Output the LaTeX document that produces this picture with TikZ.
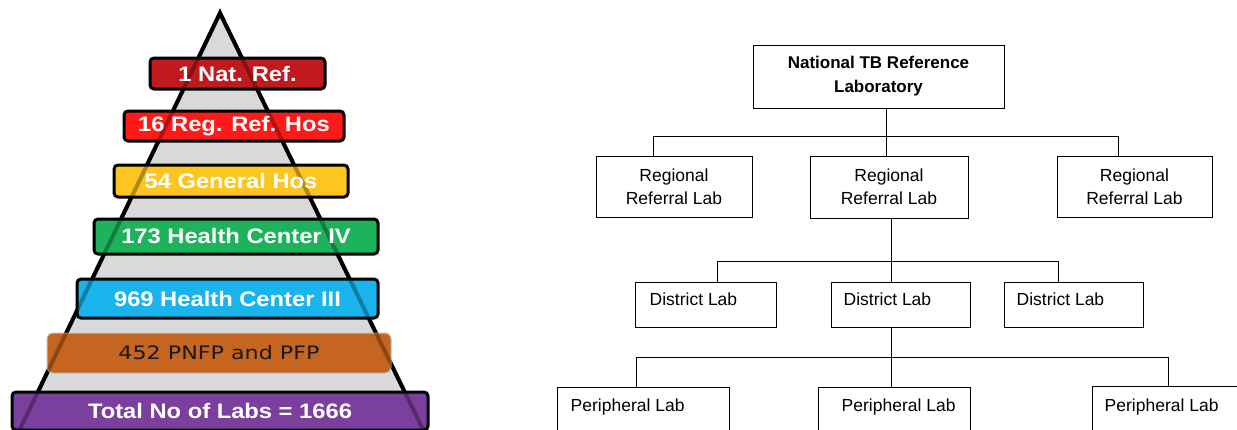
\documentclass[tikz,border=0pt]{standalone}
\usepackage{fontspec}
\setmainfont{Liberation Sans}
\newfontfamily\bandfont[FakeStretch=1.13]{Liberation Sans}
\newfontfamily\pnfpfont[FakeStretch=1.2]{DejaVu Sans}

\definecolor{pyrgray}{RGB}{217,217,217}
\definecolor{natred}{RGB}{192,26,31}
\definecolor{regred}{RGB}{255,25,25}
\definecolor{genyellow}{RGB}{252,197,32}
\definecolor{hcgreen}{RGB}{29,179,90}
\definecolor{hccyan}{RGB}{26,180,236}
\definecolor{pnfporange}{RGB}{198,101,31}
\definecolor{totpurple}{RGB}{123,63,158}

\begin{document}
\begin{tikzpicture}[x=1pt, y=-1pt,
    band/.style={draw=black, line width=3pt, rounded corners=4pt, inner sep=0pt},
    bandtext/.style={text=white, inner sep=0pt, font=\bandfont\fontsize{21}{24}\selectfont\bfseries},
    lab/.style={draw=black, line width=1pt, inner sep=0pt},
    labtext/.style={inner sep=0pt, anchor=base west, font=\fontsize{17.5}{21}\selectfont},
    link/.style={draw=black, line width=1pt}]
    \clip (0,0) rectangle (1237,429);

    % pyramid
    \filldraw[fill=pyrgray, line width=4pt] (10,450) -- (220,13) -- (433,450) -- cycle;

    \node[band, fill=natred, minimum width=175, minimum height=31] (natband) at (237.5,73.5) {};
    \node[band, fill=regred, minimum width=220, minimum height=30] (regband) at (234,126) {};
    \node[band, fill=genyellow, minimum width=234, minimum height=32] (genband) at (231,181) {};
    \node[band, fill=hcgreen, minimum width=284, minimum height=35] (hcivband) at (236,236.5) {};
    \node[band, fill=hccyan, minimum width=301, minimum height=39] (hciiiband) at (227.5,298.5) {};
    \node[band, fill=pnfporange, draw=cyan!25!gray!60, line width=1pt, rounded corners=6pt,
        minimum width=344, minimum height=40] (pnfpband) at (219,353) {};
    \node[band, fill=totpurple, minimum width=416, minimum height=38] (totband) at (220,411) {};

    \draw[line width=4pt, draw opacity=0.3] (10,450) -- (220,13) -- (433,450); % sides show through

    \node[bandtext] (nattxt) at (natband) {1 Nat. Ref.};
    \node[bandtext] (regtxt) at (regband) {16 Reg. Ref. Hos};
    \node[bandtext] (gentxt) at (genband) {54 General Hos};
    \node[bandtext] (hcivtxt) at (hcivband) {173 Health Center IV};
    \node[bandtext] (hciiitxt) at (hciiiband) {969 Health Center III};
    \node[inner sep=0pt, text=black!90, font=\pnfpfont\fontsize{18.5}{22}\selectfont] (pnfptxt) at (pnfpband) {452 PNFP and PFP};
    \node[bandtext] (tottxt) at (totband) {Total No of Labs = 1666};

    % lab network
    \node[lab, minimum width=251, minimum height=63, align=center,
        font=\fontsize{17}{24}\selectfont\bfseries] (nat) at (878.5,76.5) {National TB Reference\\Laboratory};

    \node[lab, minimum width=156, minimum height=61, align=center, font=\fontsize{17.5}{23}\selectfont] (reg1) at (674,186.5) {Regional\\Referral Lab};
    \node[lab, minimum width=158, minimum height=62, align=center, font=\fontsize{17.5}{23}\selectfont] (reg2) at (889,187) {Regional\\Referral Lab};
    \node[lab, minimum width=155, minimum height=61, align=center, font=\fontsize{17.5}{23}\selectfont] (reg3) at (1134.5,186.5) {Regional\\Referral Lab};

    \node[lab, minimum width=141, minimum height=45] (dist1) at (705.5,304.5) {};
    \node[lab, minimum width=139, minimum height=45] (dist2) at (900.5,304.5) {};
    \node[lab, minimum width=139, minimum height=45] (dist3) at (1073.5,304.5) {};
    \node[labtext] (dist1txt) at ([xshift=15pt, yshift=-24pt]dist1.north west) {District Lab};
    \node[labtext] (dist2txt) at ([xshift=13pt, yshift=-24pt]dist2.north west) {District Lab};
    \node[labtext] (dist3txt) at ([xshift=13pt, yshift=-24pt]dist3.north west) {District Lab};

    \node[lab, minimum width=172, minimum height=60] (per1) at (643,417) {};
    \node[lab, minimum width=152, minimum height=60] (per2) at (894,417) {};
    \node[lab, minimum width=168, minimum height=60] (per3) at (1176,416) {};
    \node[labtext] (per1txt) at ([xshift=14pt, yshift=-25pt]per1.north west) {Peripheral Lab};
    \node[labtext] (per2txt) at ([xshift=24pt, yshift=-25pt]per2.north west) {Peripheral Lab};
    \node[labtext] (per3txt) at ([xshift=13pt, yshift=-26pt]per3.north west) {Peripheral Lab};

    \draw[link] ([xshift=8pt]nat.south) -- ++(0,28) coordinate (j1);
    \draw[link] ([xshift=-21pt]reg1.north) |- (j1) -| ([xshift=-16.5pt]reg3.north);
    \draw[link] (j1) -- (j1 |- reg2.north);

    \draw[link] ([xshift=2pt]reg2.south) -- ++(0,43) coordinate (j2);
    \draw[link] ([xshift=11.5pt]dist1.north) |- (j2) -| ([xshift=-15.5pt]dist3.north);
    \draw[link] (j2) -- (j2 |- dist2.north);

    \draw[link] (j2 |- dist2.south) -- ++(0,30) coordinate (j3);
    \draw[link] ([xshift=-7pt]per1.north) |- (j3) -| ([xshift=-8pt]per3.north);
    \draw[link] (j3) -- (j3 |- per2.north);
\end{tikzpicture}
\end{document}
